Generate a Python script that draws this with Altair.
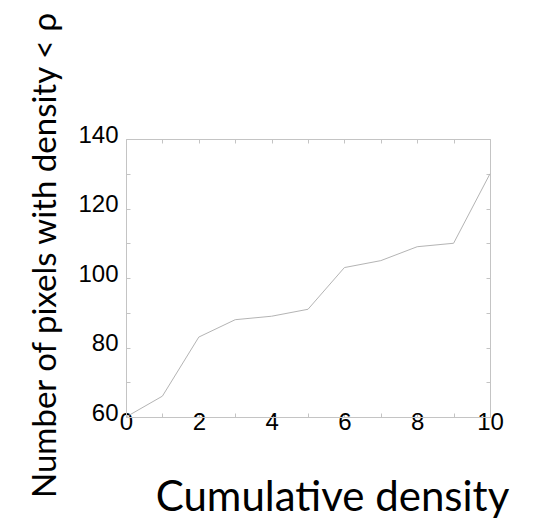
import altair as alt
import pandas as pd

# Data
x_vals = [0, 1, 2, 3, 4, 5, 6, 7, 8, 9, 10]
counts = [60, 66, 83, 88, 89, 91, 103, 105, 109, 110, 130]
x_ticks = [0, 1, 2, 3, 4, 5, 6, 7, 8, 9, 10]
y_ticks = [60, 70, 80, 90, 100, 110, 120, 130, 140]

df = pd.DataFrame({"x": x_vals, "n": counts})

frame_gray = "#c4c4c4"
line_gray = "#b4b4b4"
xscale = alt.Scale(domain=[0, 10], nice=False, zero=False)
yscale = alt.Scale(domain=[60, 140], nice=False, zero=False)
inward = alt.ExprRef(expr="-4")

common = dict(domainColor=frame_gray, tickColor=frame_gray, tickSize=inward,
              grid=False, labelFont="Liberation Sans", labelFontSize=24,
              labelColor="black", labelOverlap=False)

x_bottom = alt.Axis(values=x_ticks, labelExpr="datum.value % 2 == 0 ? datum.label : ''",
                    labelFlush=False, labelPadding=-3,
                    title="Cumulative density", titleFont="Lato", titleFontSize=42,
                    titleFontWeight="normal", titleColor="black",
                    titleX=206, titleY=93, titleBaseline="alphabetic", titleAlign="center",
                    **common)
y_left = alt.Axis(values=y_ticks, labelExpr="datum.value % 20 == 0 ? datum.label : ''",
                  labelFlush=False, labelPadding=12, labelOffset=-4,
                  title="Number of pixels with density < ρ", titleFont="Lato", titleFontSize=33,
                  titleFontWeight="normal", titleColor="black", titleAngle=270,
                  titleX=-71, titleY=116, titleBaseline="alphabetic", titleAlign="center",
                  **common)

line = alt.Chart(df).mark_line(color=line_gray, strokeWidth=1).encode(
    x=alt.X("x:Q", scale=xscale, axis=x_bottom),
    y=alt.Y("n:Q", scale=yscale, axis=y_left),
)

x_top = alt.Axis(orient="top", values=x_ticks, labels=False, title="", **common)
y_right = alt.Axis(orient="right", values=y_ticks, labels=False, title="", **common)

mirror = alt.Chart(df).mark_line(opacity=0).encode(
    x=alt.X("x:Q", scale=xscale, axis=x_top),
    y=alt.Y("n:Q", scale=yscale, axis=y_right),
)

chart = alt.layer(line, mirror).resolve_axis(x="independent", y="independent").properties(
    width=364, height=278,
    autosize=alt.AutoSizeParams(type="none"),
    padding={"left": 126, "top": 139, "right": 53, "bottom": 104},
    background="white",
).configure_view(strokeWidth=0)

chart.save("out.html", embed_options={"renderer": "svg", "actions": False})
